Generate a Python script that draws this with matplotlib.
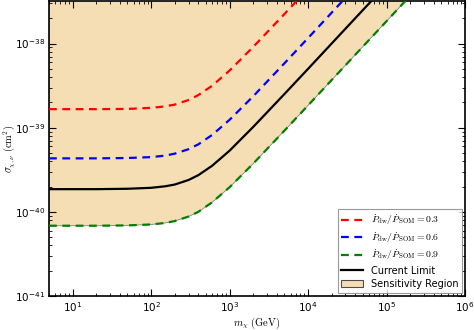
import numpy as np
import matplotlib
matplotlib.use('Agg')
from matplotlib import pyplot as plt
from matplotlib.patches import Patch
from matplotlib.lines import Line2D

plt.rcParams['mathtext.fontset'] = 'cm'

# dark matter mass (GeV)
mass = np.array([5, 10, 20, 50, 100, 150, 200, 300, 400, 600, 1e3, 2e3, 5e3, 1e4, 3e4, 1e5, 3e5, 1e6])

# cross sections (cm^2)
sigma_03 = np.array([1.66e-39, 1.66e-39, 1.66e-39, 1.67e-39, 1.72e-39, 1.79e-39, 1.88e-39, 2.13e-39,
                     2.44e-39, 3.15e-39, 4.77e-39, 9.10e-39, 2.24e-38, 4.47e-38, 1.3e-37, 4.5e-37,
                     1.3e-36, 4.5e-36])
sigma_06 = np.array([4.32e-40, 4.32e-40, 4.32e-40, 4.36e-40, 4.47e-40, 4.65e-40, 4.91e-40, 5.55e-40,
                     6.34e-40, 8.20e-40, 1.24e-39, 2.36e-39, 5.82e-39, 1.16e-38, 3.49e-38, 1.16e-37,
                     3.5e-37, 1.16e-36])
sigma_09 = np.array([6.84e-41, 6.84e-41, 6.84e-41, 6.90e-41, 7.08e-41, 7.37e-41, 7.77e-41, 8.79e-41,
                     1.00e-40, 1.30e-40, 1.96e-40, 3.74e-40, 9.22e-40, 1.84e-39, 5.52e-39, 1.84e-38,
                     5.52e-38, 1.84e-37])
sigma_limit = np.array([1.86e-40, 1.86e-40, 1.86e-40, 1.88e-40, 1.93e-40, 2.01e-40, 2.11e-40, 2.39e-40,
                        2.73e-40, 3.53e-40, 5.33e-40, 1.02e-39, 2.51e-39, 5.00e-39, 1.50e-38, 4.99e-38,
                        1.5e-37, 5.0e-37])

labels = [r'$\dot{P}_{\rm dw}/\dot{P}_{\rm SOM} = 0.3$',
          r'$\dot{P}_{\rm dw}/\dot{P}_{\rm SOM} = 0.6$',
          r'$\dot{P}_{\rm dw}/\dot{P}_{\rm SOM} = 0.9$',
          'Current Limit', 'Sensitivity Region']

xmin, xmax = 5, 1e6
ymin, ymax = 1e-41, 3.2e-38

fig = plt.figure(figsize=(4.74, 3.30), dpi=100)
ax = fig.add_axes([0.1034, 0.103, 0.8776, 0.894])

fill_col = '#F5DEB3'
ax.fill_between(mass, sigma_09, 1e-30, color=fill_col, edgecolor='0.5', linewidth=0.6, zorder=1)

dash = (3.5, 2.5)
ax.plot(mass, sigma_03, color='red', ls='--', dashes=dash, lw=1.6, zorder=3)
ax.plot(mass, sigma_06, color='blue', ls='--', dashes=dash, lw=1.6, zorder=3)
ax.plot(mass, sigma_09, color='green', ls='--', dashes=dash, lw=1.6, zorder=3)
ax.plot(mass, sigma_limit, color='black', lw=1.6, zorder=3)

ax.set_xscale('log')
ax.set_yscale('log')
ax.set_xlim(xmin, xmax)
ax.set_ylim(ymin, ymax)

ax.tick_params(which='both', direction='in', top=True, right=True, labelsize=7.5, pad=3)
ax.tick_params(which='major', length=5)
ax.tick_params(which='minor', length=2.5)
for s in ax.spines.values():
    s.set_linewidth(1.2)

ax.set_xlabel(r'$m_\chi\ ({\rm GeV})$', fontsize=7.5)
ax.set_ylabel(r'$\sigma_{\chi,\nu}\ ({\rm cm}^2)$', fontsize=7.5)
ax.xaxis.set_label_coords(0.5, -0.068)
ax.yaxis.set_label_coords(-0.078, 0.5)

handles = [Line2D([], [], color='red', ls='--', dashes=dash, lw=1.6),
           Line2D([], [], color='blue', ls='--', dashes=dash, lw=1.6),
           Line2D([], [], color='green', ls='--', dashes=dash, lw=1.6),
           Line2D([], [], color='black', lw=1.6),
           Patch(facecolor=fill_col, edgecolor='0.3', linewidth=0.8)]
leg = ax.legend(handles, labels, loc='lower right', fontsize=7, frameon=True, fancybox=False,
                edgecolor='0.5', handlelength=2.2, borderpad=0.4, labelspacing=0.35,
                borderaxespad=0.3)
leg.get_frame().set_linewidth(0.8)

fig.savefig('out.png', dpi=100)
